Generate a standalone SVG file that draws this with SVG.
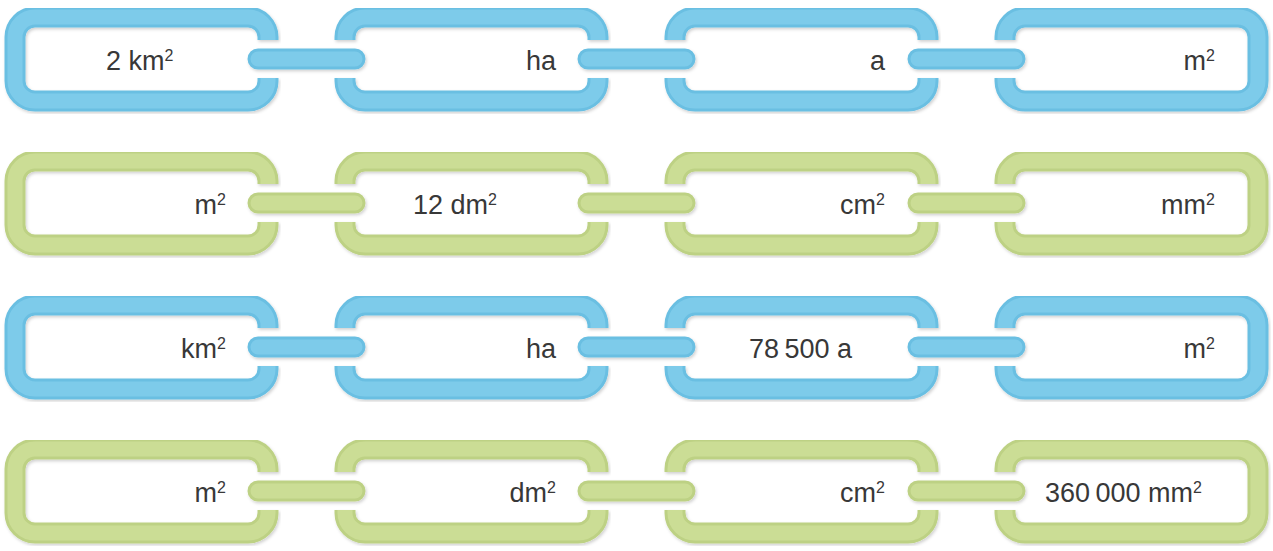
<svg xmlns="http://www.w3.org/2000/svg" width="1273" height="551" viewBox="0 0 1273 551">
<defs>
<filter id="sh" x="-5%" y="-10%" width="110%" height="125%">
<feDropShadow dx="1.2" dy="1.8" stdDeviation="1.4" flood-color="#000" flood-opacity="0.18"/>
</filter>
<style>
.bo{fill:none;stroke:#6BBFE2;stroke-width:21}
.bi{fill:none;stroke:#7DCBEA;stroke-width:15}
.go{fill:none;stroke:#BDD184;stroke-width:21}
.gi{fill:none;stroke:#CBDD95;stroke-width:15}
.bar{stroke-linecap:round}
.t{font-family:"Liberation Sans",Arial,sans-serif;font-size:27px;fill:#383838}
.e{text-anchor:end}
.s{font-size:16px}
</style>
<path id="first" d="M268,78 V81 A20,20 0 0 1 248,101 H35 A20,20 0 0 1 15,81 V37 A20,20 0 0 1 35,17 H248 A20,20 0 0 1 268,37 V40"/>
<path id="mid" d="M268,78 V81 A20,20 0 0 1 248,101 H35 A20,20 0 0 1 15,81 V78 M15,40 V37 A20,20 0 0 1 35,17 H248 A20,20 0 0 1 268,37 V40"/>
<path id="last" d="M15,40 V37 A20,20 0 0 1 35,17 H248 A20,20 0 0 1 268,37 V81 A20,20 0 0 1 248,101 H35 A20,20 0 0 1 15,81 V78"/>
</defs>
<rect width="1273" height="551" fill="#fff"/>

<!-- Row 1 (blue) -->
<g id="r1n1" transform="translate(0,0)">
<g filter="url(#sh)"><use href="#first" class="bo"/><use href="#first" class="bi"/></g>
<text class="t" x="106" y="70">2 km<tspan class="s" dy="-9">2</tspan></text>
</g>
<g id="r1n2" transform="translate(330,0)">
<g filter="url(#sh)"><use href="#mid" class="bo"/><use href="#mid" class="bi"/></g>
<text class="t e" x="226" y="70">ha</text>
</g>
<g id="r1n3" transform="translate(660,0)">
<g filter="url(#sh)"><use href="#mid" class="bo"/><use href="#mid" class="bi"/></g>
<text class="t e" x="225" y="70">a</text>
</g>
<g id="r1n4" transform="translate(990,0)">
<g filter="url(#sh)"><use href="#last" class="bo"/><use href="#last" class="bi"/></g>
<text class="t e" x="225" y="70">m<tspan class="s" dy="-9">2</tspan></text>
</g>

<!-- Row 2 (green) -->
<g id="r2n1" transform="translate(0,144)">
<g filter="url(#sh)"><use href="#first" class="go"/><use href="#first" class="gi"/></g>
<text class="t e" x="226" y="70">m<tspan class="s" dy="-9">2</tspan></text>
</g>
<g id="r2n2" transform="translate(330,144)">
<g filter="url(#sh)"><use href="#mid" class="go"/><use href="#mid" class="gi"/></g>
<text class="t" x="83" y="70">12 dm<tspan class="s" dy="-9">2</tspan></text>
</g>
<g id="r2n3" transform="translate(660,144)">
<g filter="url(#sh)"><use href="#mid" class="go"/><use href="#mid" class="gi"/></g>
<text class="t e" x="225" y="70">cm<tspan class="s" dy="-9">2</tspan></text>
</g>
<g id="r2n4" transform="translate(990,144)">
<g filter="url(#sh)"><use href="#last" class="go"/><use href="#last" class="gi"/></g>
<text class="t e" x="225" y="70">mm<tspan class="s" dy="-9">2</tspan></text>
</g>

<!-- Row 3 (blue) -->
<g id="r3n1" transform="translate(0,288)">
<g filter="url(#sh)"><use href="#first" class="bo"/><use href="#first" class="bi"/></g>
<text class="t e" x="226" y="70">km<tspan class="s" dy="-9">2</tspan></text>
</g>
<g id="r3n2" transform="translate(330,288)">
<g filter="url(#sh)"><use href="#mid" class="bo"/><use href="#mid" class="bi"/></g>
<text class="t e" x="226" y="70">ha</text>
</g>
<g id="r3n3" transform="translate(660,288)">
<g filter="url(#sh)"><use href="#mid" class="bo"/><use href="#mid" class="bi"/></g>
<text class="t" x="89" y="70">78&#8201;500 a</text>
</g>
<g id="r3n4" transform="translate(990,288)">
<g filter="url(#sh)"><use href="#last" class="bo"/><use href="#last" class="bi"/></g>
<text class="t e" x="225" y="70">m<tspan class="s" dy="-9">2</tspan></text>
</g>

<!-- Row 4 (green) -->
<g id="r4n1" transform="translate(0,432)">
<g filter="url(#sh)"><use href="#first" class="go"/><use href="#first" class="gi"/></g>
<text class="t e" x="226" y="70">m<tspan class="s" dy="-9">2</tspan></text>
</g>
<g id="r4n2" transform="translate(330,432)">
<g filter="url(#sh)"><use href="#mid" class="go"/><use href="#mid" class="gi"/></g>
<text class="t e" x="226" y="70">dm<tspan class="s" dy="-9">2</tspan></text>
</g>
<g id="r4n3" transform="translate(660,432)">
<g filter="url(#sh)"><use href="#mid" class="go"/><use href="#mid" class="gi"/></g>
<text class="t e" x="225" y="70">cm<tspan class="s" dy="-9">2</tspan></text>
</g>
<g id="r4n4" transform="translate(990,432)">
<g filter="url(#sh)"><use href="#last" class="go"/><use href="#last" class="gi"/></g>
<text class="t" x="55" y="70">360&#8201;000 mm<tspan class="s" dy="-9">2</tspan></text>
</g>

<!-- Connectors -->
<g id="connectors" filter="url(#sh)">
<g class="bar">
<path class="bo" d="M258,59 H355 M588,59 H685 M918,59 H1015 M258,347 H355 M588,347 H685 M918,347 H1015"/>
<path class="bi" d="M258,59 H355 M588,59 H685 M918,59 H1015 M258,347 H355 M588,347 H685 M918,347 H1015"/>
<path class="go" d="M258,203 H355 M588,203 H685 M918,203 H1015 M258,491 H355 M588,491 H685 M918,491 H1015"/>
<path class="gi" d="M258,203 H355 M588,203 H685 M918,203 H1015 M258,491 H355 M588,491 H685 M918,491 H1015"/>
</g>
</g>
</svg>
